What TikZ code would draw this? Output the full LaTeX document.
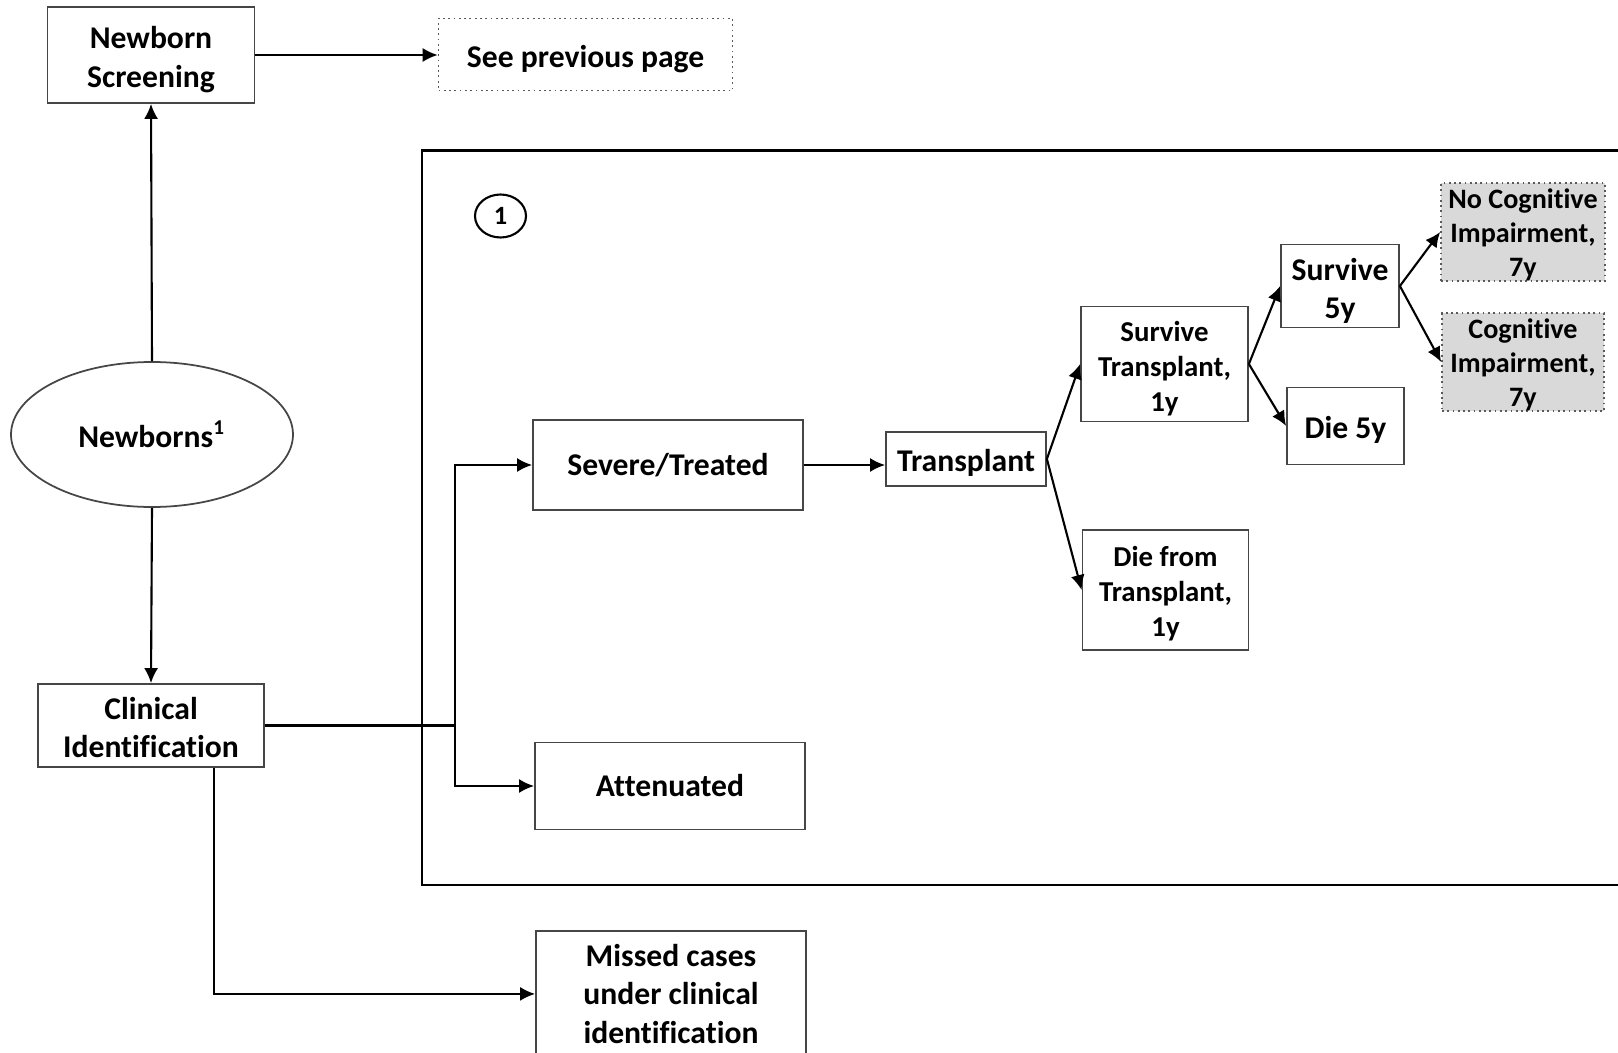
\documentclass[tikz,border=0pt]{standalone}
\usepackage{fontspec}
\setmainfont{Carlito}[Ligatures=NoCommon]
\usepackage{tikz}
\usetikzlibrary{arrows.meta,shapes.geometric}
\definecolor{cellgray}{RGB}{217,217,217}
\definecolor{dotgray}{RGB}{90,90,90}
\definecolor{edgegray}{RGB}{70,70,70}
\newcommand{\topstrut}[1]{\rule{0pt}{#1}}
\newcommand{\nodepth}[1]{\raisebox{0pt}[\height][0pt]{#1}}

\tikzset{
  box/.style={draw=edgegray, line width=0.5pt, align=center, inner sep=1pt,
    font=\bfseries\fontsize{9}{11}\selectfont},
  smallbox/.style={box, font=\bfseries\fontsize{8.2}{10}\selectfont},
  greybox/.style={box, fill=cellgray, draw=dotgray, densely dotted,
    font=\bfseries\fontsize{8}{9.65}\selectfont},
  arr/.style={-{Latex[length=1.5mm,width=1.4mm]}, line width=0.6pt}
}

\begin{document}
\begin{tikzpicture}[x=0.1mm, y=-0.1mm]
  \useasboundingbox (0,0) rectangle (1618,1053);

  \draw[line width=0.8pt] (422,150.7) rectangle (1660,885);

  \node[box, minimum width=20.7mm, minimum height=9.6mm] (screen) at (151,55) {\topstrut{9pt}Newborn\\Screening};
  \node[box, draw=dotgray, densely dotted, minimum width=29.4mm, minimum height=7.2mm] (prev) at (585.6,54.5) {\topstrut{9pt}See previous page};
  \node[box, ellipse, inner sep=0pt, minimum width=28.2mm, minimum height=14.5mm] (newborns) at (152,434.5) {Newborns\textsuperscript{1}};
  \node[box, minimum width=22.6mm, minimum height=8.3mm] (clinical) at (151,725.5) {\topstrut{7.4pt}Clinical\\Identification};

  \node[ellipse, draw, inner sep=0pt, line width=0.6pt, minimum width=5.1mm, minimum height=4.3mm,
    font=\bfseries\fontsize{7.5}{8}\selectfont] (mark) at (500.5,216) {1};

  \node[box, minimum width=27mm, minimum height=9mm] (severe) at (668,465) {Severe/Treated};
  \node[box, minimum width=16mm, minimum height=5.4mm] (transplant) at (966,459) {\topstrut{8.6pt}Transplant};
  \node[smallbox, minimum width=16.7mm, minimum height=11.5mm] (survtx) at (1164.5,364) {\topstrut{8.2pt}Survive\\Transplant,\\1y};
  \node[smallbox, minimum width=16.6mm, minimum height=12mm] (dietx) at (1165.5,590) {\topstrut{8pt}Die from\\Transplant,\\1y};
  \node[box, minimum width=11.8mm, minimum height=8.3mm] (surv5) at (1340,286) {\topstrut{9pt}Survive\\5y};
  \node[box, minimum width=11.7mm, minimum height=7.7mm] (die5) at (1345.5,426) {\topstrut{8.6pt}Die 5y};
  \node[greybox, minimum width=16.4mm, minimum height=9.8mm] (nocog) at (1523,232) {\topstrut{5.8pt}No Cognitive\\Impairment,\\\nodepth{7y}};
  \node[greybox, minimum width=16.2mm, minimum height=9.8mm] (cog) at (1523,362) {\topstrut{5.8pt}Cognitive\\Impairment,\\\nodepth{7y}};
  \node[box, minimum width=27mm, minimum height=8.7mm] (atten) at (670,786) {Attenuated};
  \node[box, anchor=north, minimum width=27mm, inner xsep=1pt, inner ysep=1pt] (missed) at (671,930)
    {\topstrut{9pt}\parbox[t][10.96mm][t]{26mm}{\centering Missed cases\\under clinical\\identification}};

  \coordinate (split) at (455,0 |- clinical.east);
  \coordinate (drop) at (213.6,0 |- clinical.south);

  \draw[arr] (newborns.north) -- (screen.south);
  \draw[arr] (newborns.south) -- (clinical.north);
  \draw[arr] (screen.east) -- (screen.east -| prev.west);
  \draw[line width=0.6pt] (clinical.east) -- (split);
  \draw[arr] (split) |- (severe.west);
  \draw[arr] (split) |- (atten.west);
  \draw[arr] (drop) |- (missed.west);
  \draw[arr] (severe.east) -- (severe.east -| transplant.west);
  \draw[arr] (transplant.east) -- (survtx.west);
  \draw[arr] (transplant.east) -- (dietx.west);
  \draw[arr] (survtx.east) -- (surv5.west);
  \draw[arr] (survtx.east) -- (die5.west);
  \draw[arr] (surv5.east) -- (nocog.west);
  \draw[arr] (surv5.east) -- (cog.west);
\end{tikzpicture}
\end{document}
